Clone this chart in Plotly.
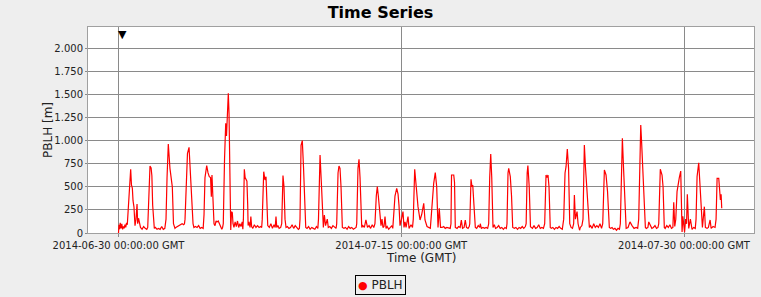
import pandas as pd
import plotly.graph_objects as go

# ---------------- data ----------------
series_name = "PBLH"
start_time = "2014-06-30 00:00:00"
marker_time = "2014-06-30 04:30:00"
tick_dates = ["2014-06-30", "2014-07-15", "2014-07-30"]
x_range = ["2014-06-28 09:10:00", "2014-08-02 17:05:00"]
y_range = [0, 2230]
y_ticks = [0, 250, 500, 750, 1000, 1250, 1500, 1750, 2000]

# hours since start_time
hours = [
    0, 0.6, 1.4, 2.2, 3.2, 4.2, 5.2, 6.2, 7.2, 8.2, 9.2, 10.2, 11.2, 12.1, 13.5, 15.5, 16.5, 17.6, 18.5, 19.7, 21, 22.3, 23.6,
    24.4, 25.5, 26.7, 28, 30, 32, 34, 36,
    37.2, 38.2, 39.2, 40.1, 41.5, 42.5, 43.5, 44.5, 45.6, 47, 49, 51, 53, 55, 57, 59,
    60.5, 61.8, 63.4, 65.5, 67.5, 68.5, 70, 71.9, 73, 75, 77, 79, 81, 83, 84,
    84.7, 86.6, 87.8, 89.8, 91, 92.3, 93.6, 94.9, 96, 98, 100, 102, 104, 106, 107.8,
    108.9, 110.1, 112.3, 114, 115.6, 117.2, 118.2, 119, 120.3, 121.6, 122.9, 124.2, 125.4, 127, 128.5, 130, 131.5, 132.5,
    133.4, 135, 136.5, 137.5, 138.8, 139.8, 140.7, 141.7, 142.9, 143.9, 144.9, 145.8, 147, 148.5, 150, 151.5, 153, 154.5, 156, 157.5, 158.3,
    159, 160.2, 161.2, 162.5, 163.5, 164.5, 165, 166, 167.5, 168.5, 169.5, 171, 173, 175, 177, 179, 181, 182.3,
    183, 184.9, 186.5, 187.8, 189, 190, 192, 194, 196, 198, 199.5, 200.5, 201.5, 203, 204.5, 206.5,
    207.8, 208.8, 209.4, 210.7, 212, 213.3, 215, 217, 219, 221, 223, 225, 227, 229, 230.3,
    231.1, 232.4, 234, 235.6, 236.8, 238.4, 240, 242, 244, 246, 248, 250, 252, 253.8,
    254.6, 256.6, 258.5, 260.8, 262.1, 263.6, 265.8, 267.1, 269, 271, 273, 275, 277,
    277.8, 279.5, 280.7, 282, 283.3, 285, 287, 289, 291, 293, 295, 297, 299, 301, 302.5,
    303.3, 304.9, 306.2, 307.5, 309.7, 311, 313, 315, 317, 319, 321, 323, 325,
    326.5, 328.2, 329.5, 330.8, 332.9, 334.2, 335.5, 336.7, 338, 339.3, 340.6, 342, 344, 346, 348, 349.2,
    349.9, 352, 354.2, 355.9, 357.1, 358.4, 360.3, 362.2, 363.5, 364.8, 366.1, 368.6, 369.9, 372.4, 374.3,
    375.3, 377.1, 378.8, 381.3, 383.9, 386, 388.6, 390.2, 392.8, 395, 397,
    397.9, 399.5, 401.3, 403.3, 405.1, 406.8, 408.4, 410, 412, 414, 416, 418, 420, 422.3,
    423.3, 424, 426.8, 427.8, 428.8, 431, 433, 435, 436.5, 438, 440, 441.5, 443, 445, 446.5,
    447.2, 448.8, 450.1, 451, 452.7, 454.3, 456, 458, 460, 460.6, 462, 464, 466, 468, 470,
    471.3, 472.6, 473.9, 475.2, 476.8, 478.5, 480, 482, 484, 486, 488, 490, 492, 493.8,
    494.6, 495.9, 496.8, 498.8, 500.4, 501.9, 504, 506, 508, 510, 512, 514, 516, 518,
    519, 520.3, 521.2, 522.9, 524.5, 527, 529, 531, 533, 535, 537, 539, 541,
    542.6, 543.6, 544.3, 545.5, 546.8, 548.1, 549.7, 551, 553, 555, 557, 559, 561, 563, 565,
    566.8, 568.5, 569.8, 571.4, 573, 574.5, 576.2, 578, 579.5, 580.4, 581.7, 583.8, 585.1, 587, 588, 590,
    591.4, 593.1, 594.6, 596.6, 597.9, 599.5, 601, 603, 605, 607, 609, 611, 613, 615,
    616.5, 617.5, 618.6, 620.7, 622.6, 624.9, 626.5, 628.4, 630, 632, 634, 636, 637.8,
    638.9, 640.2, 641.5, 643, 643.7, 645, 646.3, 648.7, 651.2, 653.8, 656.4, 659, 661,
    662.3, 663.3, 664.9, 665.9, 667.4, 668.7, 670.8, 672, 674, 675.1, 677, 679, 681, 683, 685, 686.8,
    687.8, 688.8, 689.8, 692, 693.3, 694.9, 696, 698, 700, 702, 704, 705.8,
    706.9, 708.2, 709.5, 711.1, 712.5, 714, 715.8, 716.8, 717.5, 718.5, 719.8, 720.7, 722, 723.2, 724.2, 725.1, 726, 728.1, 730.2, 732.3, 734.3,
    735.3, 736.6, 738.7, 740.4, 742.1, 743.4, 745.9, 747.2, 749.3, 751, 753.2, 754.5, 757, 759.5,
    760.8, 762.1, 764.2, 765.3, 766.3, 767.2, 768,
]

pblh = [
    0, 90, 40, 110, 50, 100, 40, 70, 50, 90, 60, 110, 90, 250, 500, 690, 520, 487, 350, 280, 80, 150, 314,
    100, 160, 110, 60, 40, 70, 50, 40,
    60, 300, 690, 725, 705, 620, 300, 120, 50, 60, 40, 50, 40, 70, 40, 50,
    150, 600, 963, 700, 550, 500, 100, 50, 60, 70, 80, 90, 100, 90, 100,
    150, 700, 859, 928, 700, 500, 300, 100, 60, 70, 60, 80, 50, 60, 50,
    200, 600, 729, 650, 610, 600, 393, 627, 300, 100, 80, 130, 120, 130, 100, 70, 40, 60,
    100, 800, 1188, 1050, 1350, 1513, 1300, 800, 32, 230, 220, 100, 60, 120, 70, 130, 60, 100, 70, 120, 40,
    150, 690, 600, 574, 560, 300, 80, 120, 60, 177, 70, 50, 90, 60, 80, 60, 70, 60,
    150, 664, 574, 610, 400, 80, 60, 100, 50, 90, 60, 177, 60, 80, 50, 60,
    100, 450, 621, 500, 150, 60, 70, 50, 60, 90, 50, 80, 60, 40, 50,
    150, 950, 1000, 700, 400, 60, 50, 70, 40, 60, 50, 40, 70, 50,
    150, 845, 500, 60, 195, 80, 150, 60, 70, 50, 80, 60, 50,
    100, 650, 725, 700, 500, 60, 50, 60, 40, 70, 50, 60, 40, 50, 60,
    100, 700, 798, 600, 60, 80, 60, 141, 60, 80, 50, 90, 60,
    100, 400, 502, 400, 177, 80, 150, 60, 70, 177, 50, 70, 40, 60, 80, 50,
    150, 400, 484, 420, 300, 80, 150, 231, 60, 120, 60, 177, 50, 90, 60,
    150, 690, 502, 285, 141, 200, 322, 141, 70, 60, 50,
    150, 400, 538, 653, 502, 60, 267, 61, 60, 70, 50, 60, 55, 50,
    100, 628, 628, 550, 60, 50, 70, 60, 141, 50, 60, 141, 60, 50, 70,
    100, 581, 500, 520, 300, 60, 50, 80, 60, 100, 50, 60, 50, 60, 50,
    100, 600, 856, 600, 60, 90, 50, 60, 80, 50, 60, 40, 60, 50,
    100, 650, 700, 610, 400, 60, 50, 60, 40, 60, 50, 70, 50, 70,
    100, 650, 729, 500, 68, 50, 80, 50, 60, 90, 50, 60, 50,
    100, 600, 628, 600, 628, 500, 60, 50, 60, 40, 60, 50, 70, 50, 40,
    150, 650, 718, 910, 700, 100, 60, 50, 100, 412, 150, 231, 100, 30, 60, 80,
    150, 953, 700, 448, 300, 60, 80, 50, 100, 60, 80, 60, 100, 50,
    100, 600, 682, 628, 450, 60, 50, 60, 40, 50, 30, 50, 40,
    100, 600, 1025, 700, 556, 350, 51, 60, 120, 80, 50, 60, 50,
    150, 700, 1170, 1000, 700, 592, 60, 50, 60, 120, 80, 50, 60, 80, 50, 60,
    100, 600, 690, 628, 500, 60, 50, 80, 60, 90, 50, 60,
    332, 70, 150, 448, 550, 600, 671, 400, 10, 180, 60, 10, 150, 100, 419, 100, 50, 150, 40, 60, 50,
    150, 610, 761, 500, 150, 60, 285, 60, 50, 60, 141, 50, 70, 60,
    150, 592, 592, 450, 357, 420, 267,
]

# ---------------- figure ----------------
times = pd.Timestamp(start_time) + pd.to_timedelta(hours, unit="h")

FONT = "DejaVu Sans"
GRID = "#8a8a8a"
BG = "#eeeeee"

fig = go.Figure()
fig.add_trace(go.Scatter(
    x=times, y=pblh, mode="lines", name=series_name,
    line=dict(color="#ff0000", width=1.2), showlegend=False,
))

fig.update_layout(
    width=761, height=297,
    margin=dict(l=88, r=7, t=27, b=64),
    paper_bgcolor=BG, plot_bgcolor="white",
    separators=",.",
    font=dict(family=FONT, size=10, color="#333333"),
    title=dict(text="<b>Time Series</b>", x=0.5, xref="container", xanchor="center",
               y=1 - 12.5 / 297, yref="container", yanchor="middle",
               font=dict(family=FONT, size=16, color="black")),
    showlegend=False,
)

fig.update_xaxes(
    type="date", range=x_range,
    tickvals=tick_dates, tickformat="%Y-%m-%d %H:%M:%S GMT",
    showgrid=True, gridcolor=GRID, gridwidth=1,
    showline=True, linecolor="#a0a0a0", linewidth=1, mirror=True,
    ticks="outside", ticklen=3, tickcolor=GRID,
    tickfont=dict(family=FONT, size=10, color="#222222"),
    zeroline=False,
)
fig.update_yaxes(
    range=y_range, tickvals=y_ticks, tickformat=",d",
    showgrid=True, gridcolor=GRID, gridwidth=1,
    showline=True, linecolor="#a0a0a0", linewidth=1, mirror=True,
    ticks="outside", ticklen=2, tickcolor=GRID,
    tickfont=dict(family=FONT, size=10, color="#222222"),
    zeroline=False,
)

# axis titles
fig.add_annotation(text="PBLH [m]", xref="paper", yref="paper", x=0, y=0.5,
                   xshift=-40, textangle=-90, showarrow=False,
                   xanchor="center", yanchor="middle",
                   font=dict(family=FONT, size=12, color="#222222"))
fig.add_annotation(text="Time (GMT)", xref="paper", yref="paper", x=0.5, y=0,
                   yshift=-25, showarrow=False, xanchor="center", yanchor="middle",
                   font=dict(family=FONT, size=12, color="#222222"))

# legend box
fig.add_annotation(text="<span style='color:#ff0000;font-size:11px'>●</span> " + series_name,
                   xref="paper", yref="paper", x=(380.5 - 88) / 666, y=0,
                   yshift=-52, showarrow=False, xanchor="center", yanchor="middle",
                   bordercolor="black", borderwidth=1, borderpad=2, bgcolor=BG,
                   font=dict(family=FONT, size=12, color="#222222"))

# marker at top
fig.add_annotation(text="▼", xref="x", yref="paper", x=marker_time, y=1,
                   showarrow=False, xanchor="center", yanchor="top", yshift=1,
                   font=dict(family=FONT, size=11, color="black"))

fig.write_html("out.html")
